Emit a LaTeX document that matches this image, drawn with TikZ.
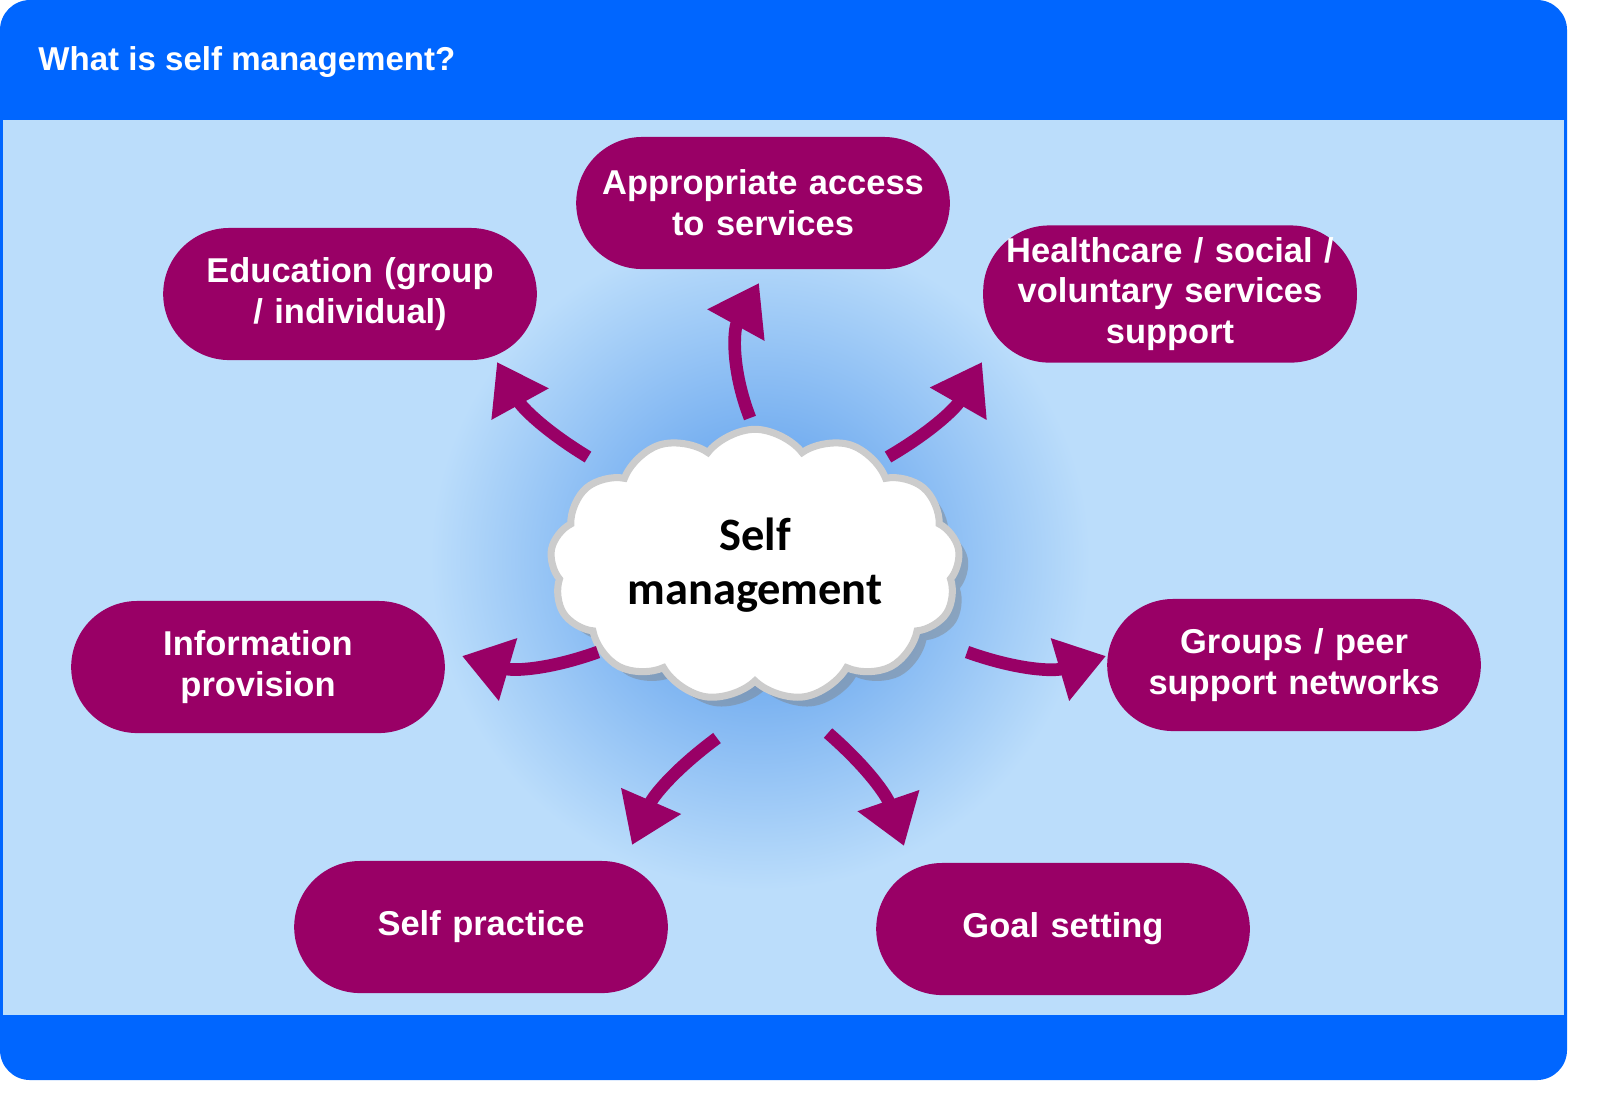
\documentclass[tikz,border=0pt]{standalone}
\usepackage{fontspec}
\setmainfont{Liberation Sans}
\newfontfamily\cloudfont{Carlito}
\usepackage{tikz}
\usetikzlibrary{positioning, arrows.meta, shapes.symbols, shadows}
\definecolor{frameblue}{HTML}{0066FF}
\definecolor{paleblue}{HTML}{BBDDFB}
\definecolor{glowblue}{HTML}{4F95EA}
\definecolor{plum}{HTML}{990066}
\tikzset{
    pill/.style={fill=plum, rounded corners=0.66cm, minimum width=3.7cm, minimum height=1.32cm,
        text width=3.5cm, align=center, text=white, font=\fontsize{9.8}{11.6}\selectfont\bfseries},
    flow/.style={plum, line width=3.6pt, -{Triangle[width=0.62cm,length=0.48cm]}}
}
\begin{document}
\begin{tikzpicture}[x=0.01cm, y=-0.01cm]
    % frame
    \fill[frameblue, rounded corners=0.3cm] (0,0) rectangle (1567,1080);
    \fill[paleblue] (3,120) rectangle (1564,1015);
    \node[anchor=west, text=white, font=\fontsize{9.4}{11}\selectfont\bfseries] (title) at (26,62) {What is self management?};

    % glow
    \begin{scope}
        \clip (3,120) rectangle (1564,1015);
        \shade[inner color=glowblue, outer color=paleblue] (760,560) circle (330);
    \end{scope}

    % centre
    \node[cloud, cloud puffs=13, cloud puff arc=105, aspect=1.7, fill=white, draw=black!20, line width=2pt,
        drop shadow={opacity=0.45}, minimum width=3.55cm, minimum height=2.05cm, align=center,
        font=\fontsize{13.2}{15.5}\selectfont\cloudfont\bfseries] (self) at (755,565) {Self\\management};

    % topics
    \node[pill] (access) at (763,203) {Appropriate access\\to services};
    \node[pill] (edu) at (350,294) {Education (group\\/ individual)};
    \node[pill] (care) at (1170,294) {Healthcare / social /\\voluntary services\\support};
    \node[pill] (info) at (258,667) {Information\\provision};
    \node[pill] (groups) at (1294,665) {Groups / peer\\support networks};
    \node[pill] (practice) at (481,927) {Self practice};
    \node[pill] (goal) at (1063,929) {Goal setting};

    % arrow ends
    \coordinate (s1) at (750,418);
    \coordinate (s2) at (588,457);
    \coordinate (s3) at (888,457);
    \coordinate (s4) at (598,652);
    \coordinate (s5) at (967,652);
    \coordinate (s6) at (717,738);
    \coordinate (s7) at (828,733);
    \coordinate (e1) at (759,283);
    \coordinate (e2) at (497,362);
    \coordinate (e3) at (982,362);
    \coordinate (e4) at (462,656);
    \coordinate (e5) at (1106,656);
    \coordinate (e6) at (632,845);
    \coordinate (e7) at (904,846);

    \draw[flow] (s1) to[bend left=25] (e1);
    \draw[flow] (s2) to[bend left=15] (e2);
    \draw[flow] (s3) to[bend right=15] (e3);
    \draw[flow] (s4) to[bend left=18] (e4);
    \draw[flow] (s5) to[bend right=18] (e5);
    \draw[flow] (s6) to[bend right=15] (e6);
    \draw[flow] (s7) to[bend left=15] (e7);

    \pgfresetboundingbox
    \useasboundingbox (0,0) rectangle (1604,1105);
\end{tikzpicture}
\end{document}
